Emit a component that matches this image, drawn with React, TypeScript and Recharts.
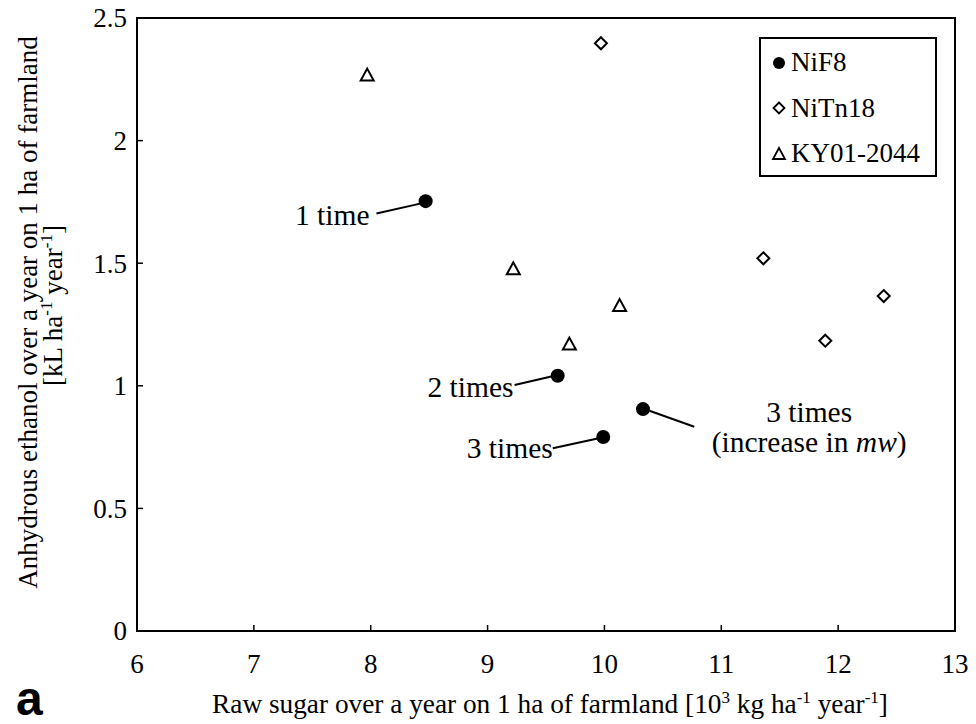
import React from 'react';
import {
  ScatterChart, Scatter, XAxis, YAxis, ReferenceArea, ReferenceLine, Legend, Label,
} from 'recharts';

const FONT = 'Liberation Serif, DejaVu Serif, serif';

// sugar yield (10^3 kg/ha/yr) vs ethanol (kL/ha/yr)
const nif8 = [
  { x: 8.47, y: 1.753 },
  { x: 9.6, y: 1.041 },
  { x: 9.99, y: 0.791 },
  { x: 10.33, y: 0.905 },
];
const nitn18 = [
  { x: 9.97, y: 2.397 },
  { x: 11.36, y: 1.52 },
  { x: 12.39, y: 1.366 },
  { x: 11.89, y: 1.184 },
];
const ky012044 = [
  { x: 7.97, y: 2.265 },
  { x: 9.22, y: 1.475 },
  { x: 10.13, y: 1.325 },
  { x: 9.7, y: 1.168 },
];

const seriesNames = ['NiF8', 'NiTn18', 'KY01-2044'];
const xTicks = [6, 7, 8, 9, 10, 11, 12, 13];
const yTicks = [0, 0.5, 1, 1.5, 2, 2.5];

const notes = [
  { x: 7.99, y: 1.656, text: '1 time', anchor: 'end' },
  { x: 9.222, y: 0.956, text: '2 times', anchor: 'end' },
  { x: 9.558, y: 0.704, text: '3 times', anchor: 'end' },
  { x: 11.752, y: 0.854, text: '3 times', anchor: 'middle' },
  { x: 11.752, y: 0.731, text: '(increase in mw)', anchor: 'middle' },
];

const leaders = [
  [{ x: 8.049, y: 1.703 }, { x: 8.433, y: 1.744 }],
  [{ x: 9.231, y: 1.003 }, { x: 9.573, y: 1.041 }],
  [{ x: 9.558, y: 0.745 }, { x: 9.972, y: 0.788 }],
  [{ x: 10.385, y: 0.898 }, { x: 10.769, y: 0.833 }],
];

const TICK_MARGIN = 10;
const NOTE_SIZE = 29.5;

const Circle = (p: any) => <circle cx={p.cx} cy={p.cy} r={7} fill="#000" />;
const Diamond = (p: any) => (
  <polygon
    points={`${p.cx},${p.cy - 6} ${p.cx + 6},${p.cy} ${p.cx},${p.cy + 6} ${p.cx - 6},${p.cy}`}
    fill="#fff" stroke="#000" strokeWidth={2}
  />
);
const Triangle = (p: any) => (
  <polygon
    points={`${p.cx},${p.cy - 7} ${p.cx + 6.5},${p.cy + 5} ${p.cx - 6.5},${p.cy + 5}`}
    fill="#fff" stroke="#000" strokeWidth={2}
  />
);

const NoteText = (p: any) => {
  const d = p.payload;
  if (d.text === '(increase in mw)') {
    return (
      <text x={p.cx} y={p.cy} textAnchor="middle" style={{ fontFamily: FONT }} fontSize={NOTE_SIZE} fill="#000">
        (increase in <tspan fontStyle="italic">mw</tspan>)
      </text>
    );
  }
  return (
    <text x={p.cx} y={p.cy} textAnchor={d.anchor} style={{ fontFamily: FONT }} fontSize={NOTE_SIZE} fill="#000">
      {d.text}
    </text>
  );
};

const XTick = (p: any) => {
  const axisY = p.y - TICK_MARGIN;
  return (
    <g>
      <line x1={p.x} x2={p.x} y1={axisY} y2={axisY - 6} stroke="#000" strokeWidth={1.5} />
      <text x={p.x} y={axisY + 42} textAnchor="middle" style={{ fontFamily: FONT }} fontSize={27} fill="#000">
        {p.payload.value}
      </text>
    </g>
  );
};

const YTick = (p: any) => {
  const axisX = p.x + TICK_MARGIN;
  return (
    <g>
      <line x1={axisX} x2={axisX + 6} y1={p.y} y2={p.y} stroke="#000" strokeWidth={1.5} />
      <text x={p.x} y={p.y} dy="0.35em" textAnchor="end" style={{ fontFamily: FONT }} fontSize={27} fill="#000">
        {p.payload.value}
      </text>
    </g>
  );
};

const XTitle = (p: any) => {
  const vb = p.viewBox;
  const cx = vb.x + vb.width / 2 + 4;
  return (
    <text x={cx} y={vb.y + 82} textAnchor="middle" style={{ fontFamily: FONT }} fontSize={27.3} fill="#000">
      Raw sugar over a year on 1 ha of farmland [10
      <tspan fontSize={17} dy={-10}>3</tspan>
      <tspan dy={10}> kg ha</tspan>
      <tspan fontSize={17} dy={-10}>-1</tspan>
      <tspan dy={10}> year</tspan>
      <tspan fontSize={17} dy={-10}>-1</tspan>
      <tspan dy={10}>]</tspan>
    </text>
  );
};

const YTitle = (p: any) => {
  const vb = p.viewBox;
  const cy = vb.y + vb.height / 2;
  const c1 = cy - 12;
  const c2 = cy - 19;
  return (
    <g>
      <text x={20} y={c1} dy="0.35em" transform={`rotate(-90, 20, ${c1})`} textAnchor="middle"
        style={{ fontFamily: FONT }} fontSize={27} fill="#000">
        Anhydrous ethanol over a year on 1 ha of farmland
      </text>
      <text x={45} y={c2} dy="0.35em" transform={`rotate(-90, 45, ${c2})`} textAnchor="middle"
        style={{ fontFamily: FONT }} fontSize={27} fill="#000">
        [kL ha<tspan fontSize={17} dy={-10}>-1</tspan>
        <tspan dy={10}> year</tspan>
        <tspan fontSize={17} dy={-10}>-1</tspan>
        <tspan dy={10}>]</tspan>
      </text>
    </g>
  );
};

const legendMarker = (name: string) => {
  if (name === 'NiF8') return <circle cx={8} cy={8} r={6} fill="#000" />;
  if (name === 'NiTn18')
    return <polygon points="8,2.5 13.5,8 8,13.5 2.5,8" fill="#fff" stroke="#000" strokeWidth={1.8} />;
  return <polygon points="8,2 14,13 2,13" fill="#fff" stroke="#000" strokeWidth={1.8} />;
};

const LegendBox = () => (
  <div
    style={{
      border: '2px solid #000', background: '#fff', width: 174, height: 135,
      boxSizing: 'content-box', fontFamily: FONT, fontSize: 27, color: '#000',
      paddingTop: 1,
    }}
  >
    {seriesNames.map((name) => (
      <div key={name} style={{ display: 'flex', alignItems: 'center', height: 45.5 }}>
        <svg width={16} height={16} style={{ marginLeft: 10, marginRight: 4 }}>
          {legendMarker(name)}
        </svg>
        <span>{name}</span>
      </div>
    ))}
  </div>
);

export default function App() {
  return (
    <div style={{ position: 'relative', width: 960, height: 724, marginTop: -8, fontFamily: FONT }}>
      <ScatterChart width={960} height={724} margin={{ top: 18, right: 13, left: 0, bottom: 0 }}>
        <XAxis
          type="number" dataKey="x" domain={[6, 13]} ticks={xTicks} height={93}
          axisLine={false} tickLine={false} tickSize={0} tickMargin={TICK_MARGIN}
          tick={<XTick />} interval={0}
        >
          <Label content={<XTitle />} />
        </XAxis>
        <YAxis
          type="number" dataKey="y" domain={[0, 2.5]} ticks={yTicks} width={129}
          axisLine={false} tickLine={false} tickSize={0} tickMargin={TICK_MARGIN}
          tick={<YTick />} interval={0}
        >
          <Label content={<YTitle />} />
        </YAxis>
        <ReferenceArea x1={6} x2={13} y1={0} y2={2.5} fill="none" stroke="#000" strokeWidth={2} fillOpacity={0} />
        {leaders.map((seg, i) => (
          <ReferenceLine key={i} segment={seg} stroke="#000" strokeWidth={2} ifOverflow="visible" />
        ))}
        <Scatter name="NiF8" data={nif8} shape={<Circle />} isAnimationActive={false} legendType="circle" />
        <Scatter name="NiTn18" data={nitn18} shape={<Diamond />} isAnimationActive={false} legendType="diamond" />
        <Scatter name="KY01-2044" data={ky012044} shape={<Triangle />} isAnimationActive={false} legendType="triangle" />
        <Scatter name="notes" data={notes} shape={<NoteText />} isAnimationActive={false} legendType="none" />
        <Legend
          layout="vertical" align="center" verticalAlign="middle"
          content={<LegendBox />}
          wrapperStyle={{ position: 'absolute', left: 751, top: 37, width: 178, height: 139 }}
        />
      </ScatterChart>
      <span
        style={{
          position: 'absolute', left: 8, top: 675, fontFamily: '"Liberation Sans", Arial, sans-serif',
          fontWeight: 'bold', fontSize: 48, lineHeight: '48px', color: '#000',
        }}
      >
        a
      </span>
    </div>
  );
}
